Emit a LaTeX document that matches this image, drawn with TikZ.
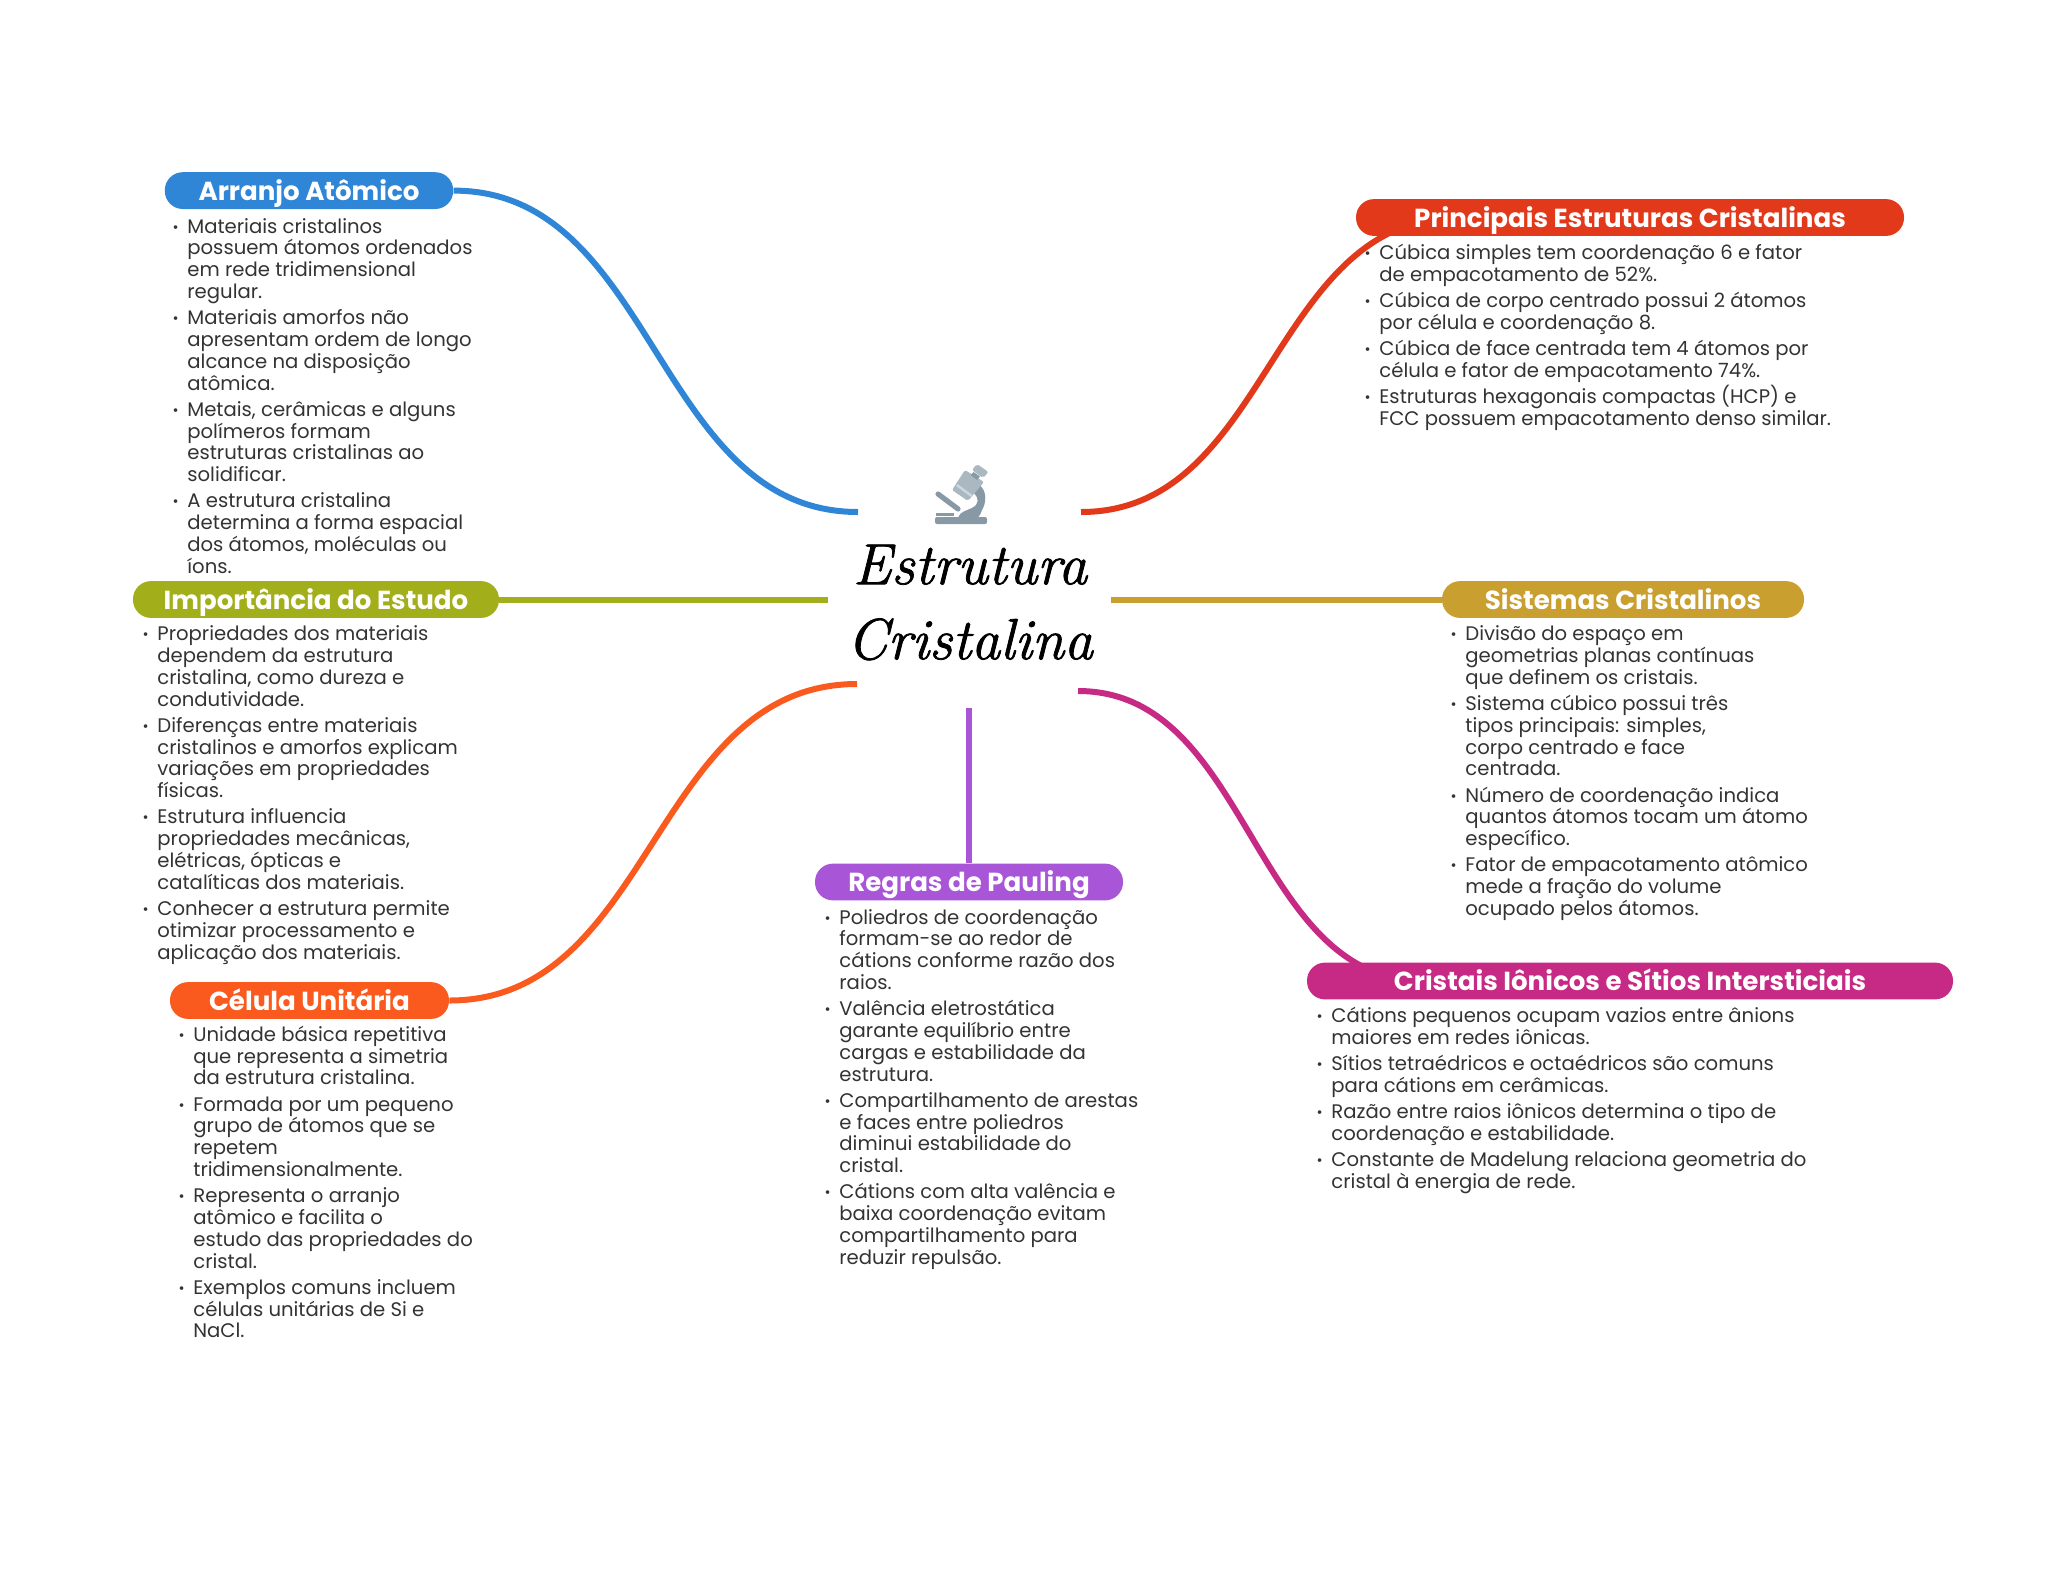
\documentclass[tikz,border=0pt]{standalone}
\usepackage{fontspec}
\setmainfont{Poppins}
\newfontfamily\titlefont[ItalicFeatures={FakeBold=1.3}]{Latin Modern Roman}
\usetikzlibrary{backgrounds}
\definecolor{cblue}{HTML}{2F86D6}
\definecolor{cred}{HTML}{E3391B}
\definecolor{colive}{HTML}{A2AF1B}
\definecolor{cgold}{HTML}{C9A02F}
\definecolor{corange}{HTML}{FA5A1E}
\definecolor{cpurple}{HTML}{A855D8}
\definecolor{cpink}{HTML}{C72A85}
\definecolor{ctext}{HTML}{333333}
\definecolor{mlight}{HTML}{AAB8C2}
\definecolor{mdark}{HTML}{8899A6}
\definecolor{mband}{HTML}{CCD6DD}
\newcommand{\itm}[1]{\strut\llap{\raisebox{0.5pt}{\scalebox{0.75}{•}}\hspace{4.4pt}}#1}
\AtBeginDocument{\lineskiplimit=-100pt \normallineskiplimit=-100pt }
\tikzset{
  pill/.style={fill=#1,rounded corners=9pt,text=white,inner sep=0pt,minimum height=18.4pt,
    font=\fontsize{13.05}{15}\selectfont\bfseries,text height=10.9pt,text depth=1.1pt,align=center},
  block/.style={anchor=north west,inner sep=0pt,align=left,text=ctext,font=\fontsize{9.82}{10.9}\selectfont},
  link/.style={draw=#1,line width=3pt},
  titletext/.style={font=\fontsize{29}{37.5}\selectfont\titlefont\itshape,text=black,align=center,inner sep=0pt}
}
\begin{document}
\begin{tikzpicture}[x=0.5pt,y=-0.5pt]
\useasboundingbox (0,0) rectangle (2048,1569);
% pills
\node[pill=cblue,minimum width=144.2pt] (arr) at (309,190.6) {Arranjo Atômico};
\node[pill=cred,minimum width=274pt] (pri) at (1630,217.5) {Principais Estruturas Cristalinas};
\node[pill=colive,minimum width=183pt] (imp) at (316,599.5) {Importância do Estudo};
\node[pill=cgold,minimum width=181pt] (sis) at (1623,599.5) {Sistemas Cristalinos};
\node[pill=corange,minimum width=139.5pt] (cel) at (309.5,1000.5) {Célula Unitária};
\node[pill=cpurple,minimum width=154pt] (reg) at (969,882) {Regras de Pauling};
\node[pill=cpink,minimum width=323pt] (cri) at (1630,981) {Cristais Iônicos e Sítios Intersticiais};
% title
\node[titletext] (title) at (970,602.5) {Estrutura\\Cristalina};
% connector ends near the centre
\coordinate (eblue) at (858,512);
\coordinate (ered) at (1081,512);
\coordinate (eolive) at (828,599.5);
\coordinate (egold) at (1111,599.5);
\coordinate (eorange) at (857,684);
\coordinate (epink) at (1078,691);
\coordinate (epurple) at (969,708);
\coordinate (pred) at (1458,217.5);
\coordinate (ppink) at (1424,981);
\begin{scope}[on background layer]
\draw[link=cblue] (arr.east) .. controls (655.5,190.6) and (655.5,512) .. (eblue);
\draw[link=cred] (ered) .. controls (1270,512) and (1270,217.5) .. (pred);
\draw[link=colive] (imp.east) -- (eolive);
\draw[link=cgold] (egold) -- (sis.west);
\draw[link=corange] (cel.east) .. controls (653,1000.5) and (653,684) .. (eorange);
\draw[link=cpink] (epink) .. controls (1251,691) and (1251,981) .. (ppink);
\draw[link=cpurple] (epurple) -- (reg.north);
\end{scope}
% icon
\begin{scope}
\fill[mdark,rounded corners=1pt] (935,517) rectangle (987,524);
\draw[mdark,line width=2.6pt,line cap=round] (938,494) -- (958,509);
\fill[mdark] (936,513) rectangle (954,516);
\fill[mdark] (958,518) .. controls (960,510) and (972,510) .. (976,505) .. controls (980,500) and (976,494) .. (972,492) -- (978,484) .. controls (988,490) and (986,504) .. (982,510) .. controls (980,516) and (978,518) .. (976,518) -- cycle;
\fill[mlight,rounded corners=1pt] (965,470) -- (984,482) -- (968,501) -- (952,490) -- cycle;
\fill[mband] (957.5,484) -- (972.5,495) -- (971,497) -- (956,486) -- cycle;
\fill[mlight,rounded corners=1pt] (977,464) -- (988.5,472) -- (983,478) -- (972,470) -- cycle;
\fill[mdark] (973.5,472) -- (980,476.5) -- (977,480) -- (970.5,475) -- cycle;
\end{scope}
% lists
\node[block] (larr) at (187,217.5) {\itm{Materiais cristalinos}\\possuem átomos ordenados\\em rede tridimensional\\regular.\\[2.2pt]
\itm{Materiais amorfos não}\\apresentam ordem de longo\\alcance na disposição\\atômica.\\[2.2pt]
\itm{Metais, cerâmicas e alguns}\\polímeros formam\\estruturas cristalinas ao\\solidificar.\\[2.2pt]
\itm{A estrutura cristalina}\\determina a forma espacial\\dos átomos, moléculas ou\\íons.};
\node[block] (lpri) at (1379,243.5) {\itm{Cúbica simples tem coordenação 6 e fator}\\de empacotamento de 52\%.\\[2.2pt]
\itm{Cúbica de corpo centrado possui 2 átomos}\\por célula e coordenação 8.\\[2.2pt]
\itm{Cúbica de face centrada tem 4 átomos por}\\célula e fator de empacotamento 74\%.\\[2.2pt]
\itm{Estruturas hexagonais compactas (HCP) e}\\FCC possuem empacotamento denso similar.};
\node[block] (limp) at (157,625) {\itm{Propriedades dos materiais}\\dependem da estrutura\\cristalina, como dureza e\\condutividade.\\[2.2pt]
\itm{Diferenças entre materiais}\\cristalinos e amorfos explicam\\variações em propriedades\\físicas.\\[2.2pt]
\itm{Estrutura influencia}\\propriedades mecânicas,\\elétricas, ópticas e\\catalíticas dos materiais.\\[2.2pt]
\itm{Conhecer a estrutura permite}\\otimizar processamento e\\aplicação dos materiais.};
\node[block] (lsis) at (1465,625) {\itm{Divisão do espaço em}\\geometrias planas contínuas\\que definem os cristais.\\[2.2pt]
\itm{Sistema cúbico possui três}\\tipos principais: simples,\\corpo centrado e face\\centrada.\\[2.2pt]
\itm{Número de coordenação indica}\\quantos átomos tocam um átomo\\específico.\\[2.2pt]
\itm{Fator de empacotamento atômico}\\mede a fração do volume\\ocupado pelos átomos.};
\node[block] (lcel) at (193,1025.5) {\itm{Unidade básica repetitiva}\\que representa a simetria\\da estrutura cristalina.\\[2.2pt]
\itm{Formada por um pequeno}\\grupo de átomos que se\\repetem\\tridimensionalmente.\\[2.2pt]
\itm{Representa o arranjo}\\atômico e facilita o\\estudo das propriedades do\\cristal.\\[2.2pt]
\itm{Exemplos comuns incluem}\\células unitárias de Si e\\NaCl.};
\node[block] (lreg) at (839,908.5) {\itm{Poliedros de coordenação}\\formam-se ao redor de\\cátions conforme razão dos\\raios.\\[2.2pt]
\itm{Valência eletrostática}\\garante equilíbrio entre\\cargas e estabilidade da\\estrutura.\\[2.2pt]
\itm{Compartilhamento de arestas}\\e faces entre poliedros\\diminui estabilidade do\\cristal.\\[2.2pt]
\itm{Cátions com alta valência e}\\baixa coordenação evitam\\compartilhamento para\\reduzir repulsão.};
\node[block] (lcri) at (1331,1006.5) {\itm{Cátions pequenos ocupam vazios entre ânions}\\maiores em redes iônicas.\\[2.2pt]
\itm{Sítios tetraédricos e octaédricos são comuns}\\para cátions em cerâmicas.\\[2.2pt]
\itm{Razão entre raios iônicos determina o tipo de}\\coordenação e estabilidade.\\[2.2pt]
\itm{Constante de Madelung relaciona geometria do}\\cristal à energia de rede.};
\end{tikzpicture}
\end{document}
